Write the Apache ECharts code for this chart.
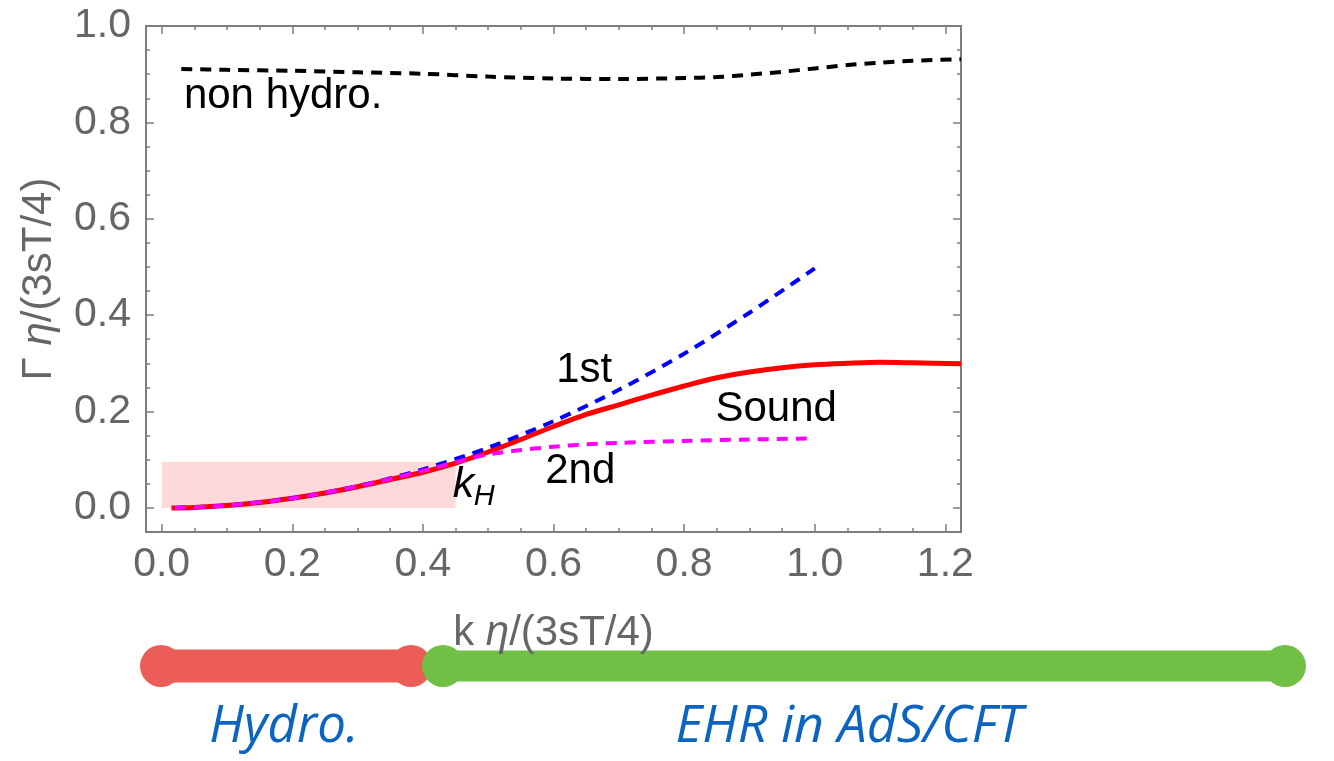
<!DOCTYPE html>
<html><head><meta charset="utf-8">
<script src="https://cdn.jsdelivr.net/npm/echarts@6/dist/echarts.min.js"></script>
<style>html,body{margin:0;padding:0;background:#fff}#c{width:1334px;height:761px}</style>
</head><body><div id="c"></div>
<script>
// ---- data ----
const kSound = [0.015,0.05,0.1,0.15,0.2,0.25,0.3,0.35,0.4,0.45,0.5,0.55,0.6,0.65,0.7,0.75,0.8,0.85,0.9,0.95,1.0,1.05,1.1,1.15,1.224];
const gSound = [0.0,0.001,0.005,0.011,0.02,0.031,0.044,0.059,0.074,0.093,0.116,0.142,0.169,0.194,0.214,0.234,0.253,0.270,0.282,0.291,0.297,0.300,0.302,0.301,0.299];
const kFirst = [0.02,0.1,0.2,0.3,0.4,0.5,0.6,0.7,0.8,0.9,1.0];
const gFirst = [0.0,0.005,0.02,0.045,0.08,0.125,0.18,0.245,0.32,0.405,0.497];
const kSecond = [0.02,0.1,0.2,0.3,0.4,0.45,0.5,0.55,0.6,0.65,0.7,0.8,0.9,0.99];
const gSecond = [0.0,0.005,0.02,0.045,0.077,0.095,0.111,0.120,0.127,0.132,0.135,0.139,0.142,0.144];
const kNonHydro = [0.03,0.1,0.2,0.3,0.4,0.5,0.6,0.7,0.8,0.85,0.9,0.95,1.0,1.05,1.1,1.15,1.224];
const gNonHydro = [0.911,0.909,0.907,0.904,0.901,0.895,0.891,0.890,0.892,0.894,0.899,0.905,0.912,0.919,0.924,0.928,0.931];
const hydroBand = [0.0, 0.45, 0.0, 0.095]; // k from, k to, Gamma from, Gamma to
const xTicks = [0,0.2,0.4,0.6,0.8,1.0,1.2];
const yTicks = [0,0.2,0.4,0.6,0.8,1.0];
const xMinor = [0.05,0.1,0.15,0.25,0.3,0.35,0.45,0.5,0.55,0.65,0.7,0.75,0.85,0.9,0.95,1.05,1.1,1.15];
const yMinor = [0.05,0.1,0.15,0.25,0.3,0.35,0.45,0.5,0.55,0.65,0.7,0.75,0.85,0.9,0.95];
const xRange = [-0.024, 1.224];
const yRange = [-0.05, 1.0];
const curveLabels = [
  {text:'non hydro.', k:0.186, g:0.854},
  {text:'1st', k:0.647, g:0.285},
  {text:'Sound', k:0.941, g:0.205},
  {text:'2nd', k:0.641, g:0.075}
];
const kHLabel = {k:0.462, g:0.048, hk:0.494, hg:0.0235};

// ---- chart ----
const zip = (a,b)=>a.map((v,i)=>[v,b[i]]);
const FF = '"Liberation Sans", Arial, sans-serif';
const frameC = '#7d7d7d';
const labC = '#666666';
const G = {left:146, top:26, width:815, height:506};

function xAx(grid, pos, ticks, len, major){
  return {type:'value', gridIndex:grid, position:pos, min:xRange[0], max:xRange[1],
    axisLine:{show:false, onZero:false}, splitLine:{show:false},
    axisTick:{show:true, inside:true, length:len, customValues:ticks, lineStyle:{color:frameC, width:1.5}},
    axisLabel: major && pos==='bottom' ? {show:true, customValues:ticks, formatter:v=>v.toFixed(1), fontSize:41, color:labC, margin:12, fontFamily:FF} : {show:false},
    name: major && pos==='bottom' ? '{n|k }{i|η}{n|/(3sT/4)}' : '',
    nameLocation:'middle', nameGap:80,
    nameTextStyle:{rich:{n:{fontSize:42,color:labC,fontFamily:FF}, i:{fontSize:42,color:labC,fontFamily:FF,fontStyle:'italic'}}}
  };
}
function yAx(grid, pos, ticks, len, major){
  return {type:'value', gridIndex:grid, position:pos, min:yRange[0], max:yRange[1],
    axisLine:{show:false, onZero:false}, splitLine:{show:false},
    axisTick:{show:true, inside:true, length:len, customValues:ticks, lineStyle:{color:frameC, width:1.5}},
    axisLabel: major && pos==='left' ? {show:true, customValues:ticks, formatter:v=>v.toFixed(1), fontSize:41, color:labC, margin:15, fontFamily:FF} : {show:false},
    name: major && pos==='left' ? '{n|Γ }{i|η}{n|/(3sT/4)}' : '',
    nameLocation:'middle', nameGap:86,
    nameTextStyle:{rich:{n:{fontSize:42,color:labC,fontFamily:FF}, i:{fontSize:42,color:labC,fontFamily:FF,fontStyle:'italic'}}}
  };
}

const dash = [11, 8];
const labelData = curveLabels.map(l=>({value:[l.k,l.g], label:{formatter:l.text}}));
labelData.push({value:[kHLabel.k,kHLabel.g], label:{formatter:'k', fontStyle:'italic', fontSize:43}});
labelData.push({value:[kHLabel.hk,kHLabel.hg], label:{formatter:'H', fontStyle:'italic', fontSize:29}});

const option = {
  animation:false,
  backgroundColor:'#ffffff',
  grid:[Object.assign({show:true, borderColor:frameC, borderWidth:2, backgroundColor:'transparent'}, G),
        Object.assign({show:false}, G)],
  xAxis:[xAx(0,'bottom',xTicks,8,true), xAx(0,'top',xTicks,8,true), xAx(1,'bottom',xMinor,4,false), xAx(1,'top',xMinor,4,false)],
  yAxis:[yAx(0,'left',yTicks,8,true), yAx(0,'right',yTicks,8,true), yAx(1,'left',yMinor,4,false), yAx(1,'right',yMinor,4,false)],
  series:[
    {type:'line', name:'Sound', data:zip(kSound,gSound), showSymbol:false, smooth:0.3,
     lineStyle:{color:'#ff0000', width:5}, z:3,
     markArea:{silent:true, itemStyle:{color:'#fdd9d9'},
       data:[[{coord:[hydroBand[0],hydroBand[2]]},{coord:[hydroBand[1],hydroBand[3]]}]]}},
    {type:'line', name:'1st', data:zip(kFirst,gFirst), showSymbol:false, smooth:0.3,
     lineStyle:{color:'#0000ff', width:4, type:dash}, z:4},
    {type:'line', name:'2nd', data:zip(kSecond,gSecond), showSymbol:false, smooth:0.3,
     lineStyle:{color:'#ff00ff', width:4, type:dash}, z:5},
    {type:'line', name:'non hydro', data:zip(kNonHydro,gNonHydro), showSymbol:false, smooth:0.3,
     lineStyle:{color:'#000000', width:4, type:dash}, z:4},
    {type:'scatter', name:'labels', data:labelData, symbolSize:1, itemStyle:{color:'rgba(0,0,0,0)'}, z:6, silent:true,
     label:{show:true, position:'inside', color:'#000000', fontSize:42, fontFamily:FF, textBorderWidth:0, textBorderColor:'transparent', opacity:1}}
  ],
  graphic:[
    {type:'line', shape:{x1:161,y1:666,x2:411,y2:666}, style:{stroke:'#ec5d57', lineWidth:33, lineCap:'round'}},
    {type:'circle', shape:{cx:161,cy:666,r:21}, style:{fill:'#ec5d57'}},
    {type:'circle', shape:{cx:411,cy:666,r:21}, style:{fill:'#ec5d57'}},
    {type:'line', shape:{x1:443,y1:666,x2:1285,y2:666}, style:{stroke:'#71bf44', lineWidth:31, lineCap:'round'}},
    {type:'circle', shape:{cx:443,cy:666,r:21}, style:{fill:'#71bf44'}},
    {type:'circle', shape:{cx:1285,cy:666,r:21}, style:{fill:'#71bf44'}},
    {type:'text', x:284, y:727, style:{text:'Hydro.', font:'italic 51px "Open Sans"', fill:'#0b64c0', align:'center', verticalAlign:'middle'}},
    {type:'text', x:849, y:727, style:{text:'EHR in AdS/CFT', font:'italic 52px "Open Sans"', fill:'#0b64c0', align:'center', verticalAlign:'middle'}}
  ]
};
const chart = echarts.init(document.getElementById('c'), null, {renderer:'canvas'});
chart.setOption(option);
</script>
</body></html>
